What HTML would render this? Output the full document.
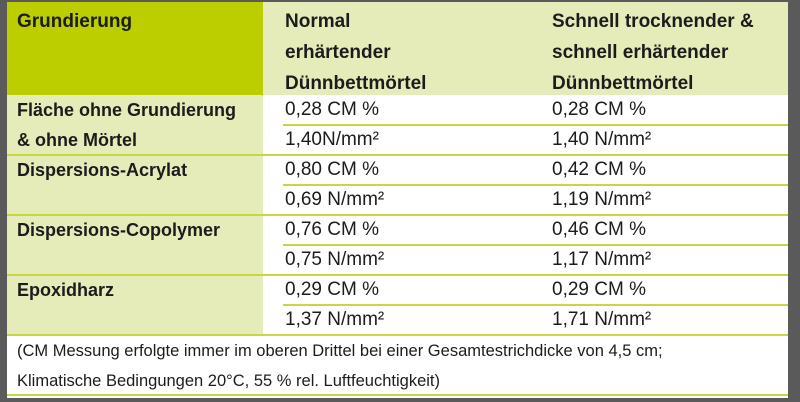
<!DOCTYPE html>
<html><head><meta charset="utf-8"><style>
body{margin:0;width:800px;height:402px;background:#5a5a5a;position:relative;overflow:hidden;font-family:"Liberation Sans",sans-serif;color:#1c1c1c}
.p{position:absolute;left:7px;top:2px;width:781px;height:396px;background:#fff}
.a{position:absolute}
.t{position:absolute;font-size:19px;white-space:nowrap}
.b{font-weight:bold;font-size:18px}
.h{font-weight:bold;font-size:19px;line-height:31px}
.l{position:absolute;height:2px;background:#c8d640}
</style></head><body>
<div class="p"></div>
<div class="a" style="left:7px;top:2px;width:256px;height:93px;background:#bccd00"></div>
<div class="a" style="left:263px;top:2px;width:525px;height:93px;background:#e5ecba"></div>
<div class="a" style="left:7px;top:95px;width:256px;height:241px;background:#e5ecba"></div>
<div class="t h" style="left:17px;top:6px">Grundierung</div>
<div class="t h" style="left:285px;top:6px">Normal<br>erhärtender<br>Dünnbettmörtel</div>
<div class="t h" style="left:552px;top:6px">Schnell trocknender &amp;<br>schnell erhärtender<br>Dünnbettmörtel</div>
<div id="rows"></div>
<div class="l" style="left:7px;top:394px;width:781px"></div>
<div class="t" style="left:17px;top:342px;font-size:16.5px">(CM Messung erfolgte immer im oberen Drittel bei einer Gesamtestrichdicke von 4,5 cm;</div>
<div class="t" style="left:17px;top:372px;font-size:16.5px">Klimatische Bedingungen 20°C, 55 % rel. Luftfeuchtigkeit)</div>
<script>
const labels=[["Fläche ohne Grundierung","& ohne Mörtel"],["Dispersions-Acrylat",""],["Dispersions-Copolymer",""],["Epoxidharz",""]];
const normal=["0,28 CM %","1,40N/mm²","0,80 CM %","0,69 N/mm²","0,76 CM %","0,75 N/mm²","0,29 CM %","1,37 N/mm²"];
const schnell=["0,28 CM %","1,40 N/mm²","0,42 CM %","1,19 N/mm²","0,46 CM %","1,17 N/mm²","0,29 CM %","1,71 N/mm²"];
const R=document.getElementById('rows');
function add(cls,txt,x,y,name,w){const d=document.createElement('div');d.className=cls;if(txt!==null)d.textContent=txt;d.style.left=x+'px';d.style.top=y+'px';if(w)d.style.width=w+'px';


R.appendChild(d);}
for(let i=0;i<8;i++){const y=95+i*30;
add('t',normal[i],285,y+4,'normal-value-'+i);
add('t',schnell[i],552,y+4,'schnell-value-'+i);
if(i%2==0){add('l',null,283,y+29,'row-line-'+i,505);}
else{add('l',null,7,y+29,'group-line-'+i,781);}
}
labels.forEach((l,g)=>{const y=95+g*60;
add('t b',l[0],17,y+5,'row-label-'+g);
if(l[1])add('t b',l[1],17,y+35,'row-label-'+g+'-b');});
</script>
</body></html>
